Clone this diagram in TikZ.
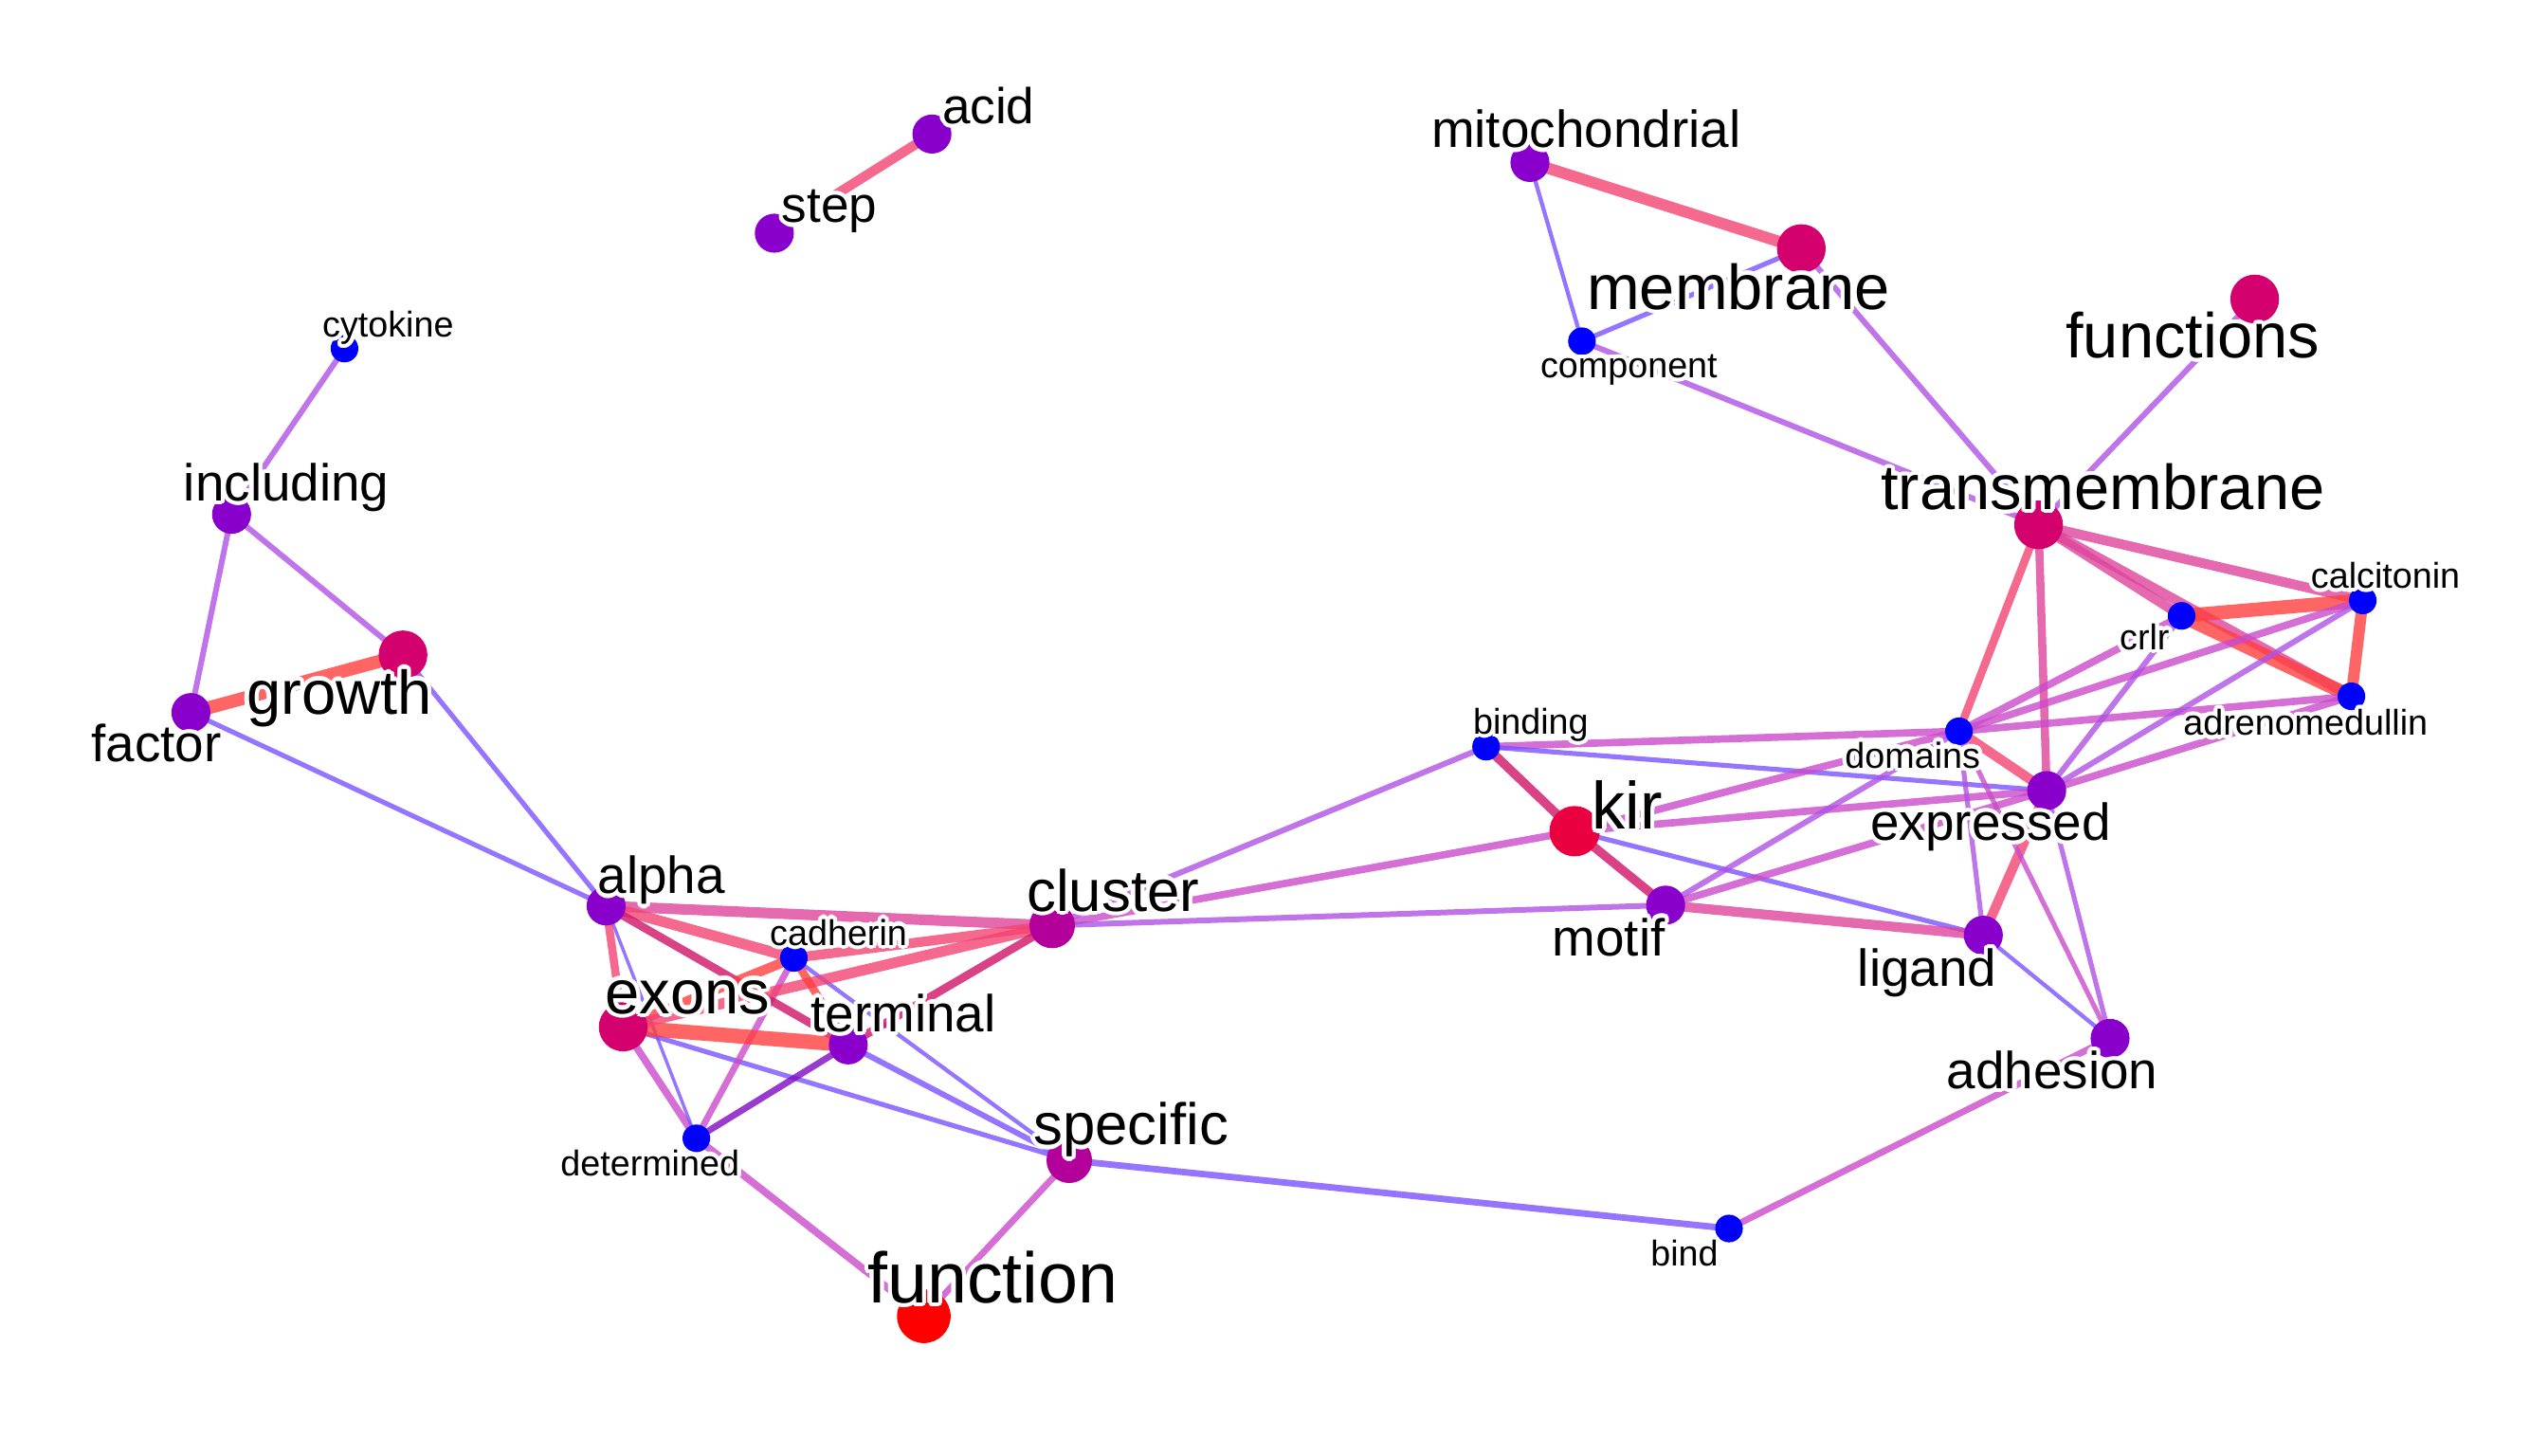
\documentclass[tikz,border=0pt]{standalone}
\usepackage{fontspec}
\setmainfont{Liberation Sans}
\usepackage[copies]{contour}
\contourlength{2.5pt}
\contournumber{16}
\usetikzlibrary{backgrounds}
\newcommand{\halotext}[1]{\contour{white}{#1}}

\definecolor{nodeblue}{RGB}{0,0,255}
\definecolor{nodepurple}{RGB}{137,0,204}
\definecolor{nodemagenta}{RGB}{180,0,155}
\definecolor{nodecrimson}{RGB}{212,0,110}
\definecolor{nodekir}{RGB}{235,0,63}
\definecolor{nodered}{RGB}{255,0,0}
\definecolor{colA}{RGB}{122,82,255}
\definecolor{colB}{RGB}{175,82,228}
\definecolor{colC}{RGB}{202,75,202}
\definecolor{colD}{RGB}{222,68,155}
\definecolor{colE}{RGB}{242,68,115}
\definecolor{colF}{RGB}{255,62,62}
\definecolor{colG}{RGB}{208,20,102}
\definecolor{colH}{RGB}{128,10,195}

\tikzset{
	vtx/.style={circle, inner sep=0pt, fill=#1},
	vblue/.style={vtx=nodeblue, minimum size=17pt},
	vpurple/.style={vtx=nodepurple, minimum size=24pt},
	vmagenta/.style={vtx=nodemagenta, minimum size=28pt},
	vcrimson/.style={vtx=nodecrimson, minimum size=30pt},
	vkir/.style={vtx=nodekir, minimum size=31pt},
	vred/.style={vtx=nodered, minimum size=33pt},
	word/.style={anchor=base, inner sep=0pt, font=\fontsize{#1}{#1}\selectfont},
	edgeA/.style={draw=colA, line width=3pt, draw opacity=0.8},
	edgeB/.style={draw=colB, line width=3.5pt, draw opacity=0.8},
	edgeC/.style={draw=colC, line width=4.5pt, draw opacity=0.8},
	edgeD/.style={draw=colD, line width=6pt, draw opacity=0.8},
	edgeE/.style={draw=colE, line width=6.5pt, draw opacity=0.8},
	edgeF/.style={draw=colF, line width=8.5pt, draw opacity=0.8},
	edgeG/.style={draw=colG, line width=5.5pt, draw opacity=0.8},
	edgeH/.style={draw=colH, line width=4pt, draw opacity=0.8}
}

\begin{document}
\begin{tikzpicture}[x=1pt, y=-1pt]
		\useasboundingbox (0,0) rectangle (1568,896);
		
		\node[vpurple] (acid) at (573.5,82.5) {};
		\node[vpurple] (step) at (476.5,143.5) {};
		\node[vblue] (cytokine) at (212,214.5) {};
		\node[vpurple] (including) at (142.5,316.5) {};
		\node[vcrimson] (growth) at (248,403) {};
		\node[vpurple] (factor) at (117.5,438.5) {};
		\node[vpurple] (mitochondrial) at (941.5,100) {};
		\node[vcrimson] (membrane) at (1108.5,153) {};
		\node[vblue] (component) at (973.5,210) {};
		\node[vcrimson] (functions) at (1387.5,184) {};
		\node[vcrimson] (transmembrane) at (1254.5,323) {};
		\node[vblue] (calcitonin) at (1454,369.5) {};
		\node[vblue] (crlr) at (1342.5,379) {};
		\node[vblue] (adrenomedullin) at (1447,428.5) {};
		\node[vblue] (domains) at (1205.5,450) {};
		\node[vblue] (binding) at (914.5,459.5) {};
		\node[vpurple] (expressed) at (1259.5,486.5) {};
		\node[vkir] (kir) at (969,511.5) {};
		\node[vpurple] (motif) at (1025,557) {};
		\node[vpurple] (ligand) at (1220.5,575.5) {};
		\node[vpurple] (adhesion) at (1298.5,639) {};
		\node[vmagenta] (cluster) at (647.5,569.5) {};
		\node[vpurple] (alpha) at (373,557.5) {};
		\node[vblue] (cadherin) at (488.5,589.5) {};
		\node[vcrimson] (exons) at (383.5,632) {};
		\node[vpurple] (terminal) at (522,643) {};
		\node[vblue] (determined) at (428.5,700.5) {};
		\node[vmagenta] (specific) at (658,714) {};
		\node[vred] (function) at (568.5,810) {};
		\node[vblue] (bind) at (1064,756) {};
		
		\begin{pgfonlayer}{background}
		\draw[edgeE, line width=6pt] (step.center) -- (acid.center);
		\draw[edgeB] (cytokine.center) -- (including.center);
		\draw[edgeB] (including.center) -- (factor.center);
		\draw[edgeB] (including.center) -- (growth.center);
		\draw[edgeF, line width=8pt] (factor.center) -- (growth.center);
		\draw[edgeA] (factor.center) -- (alpha.center);
		\draw[edgeA] (growth.center) -- (alpha.center);
		
		\draw[edgeE, line width=7pt] (mitochondrial.center) -- (membrane.center);
		\draw[edgeA, line width=2.5pt] (mitochondrial.center) -- (component.center);
		\draw[edgeA] (component.center) -- (membrane.center);
		\draw[edgeB] (component.center) -- (transmembrane.center);
		\draw[edgeB] (membrane.center) -- (transmembrane.center);
		\draw[edgeB] (functions.center) -- (transmembrane.center);
		
		\draw[edgeD] (transmembrane.center) -- (calcitonin.center);
		\draw[edgeD] (transmembrane.center) -- (crlr.center);
		\draw[edgeD] (transmembrane.center) -- (adrenomedullin.center);
		\draw[edgeF] (crlr.center) -- (calcitonin.center);
		\draw[edgeF] (crlr.center) -- (adrenomedullin.center);
		\draw[edgeF, line width=7pt] (calcitonin.center) -- (adrenomedullin.center);
		\draw[edgeE, line width=5pt] (transmembrane.center) -- (domains.center);
		\draw[edgeD, line width=5pt] (transmembrane.center) -- (expressed.center);
		\draw[edgeC] (domains.center) -- (calcitonin.center);
		\draw[edgeC] (domains.center) -- (crlr.center);
		\draw[edgeC] (domains.center) -- (adrenomedullin.center);
		\draw[edgeE, line width=6pt] (domains.center) -- (expressed.center);
		\draw[edgeB] (expressed.center) -- (crlr.center);
		\draw[edgeB] (expressed.center) -- (calcitonin.center);
		\draw[edgeC] (expressed.center) -- (adrenomedullin.center);
		
		\draw[edgeC] (binding.center) -- (domains.center);
		\draw[edgeA] (binding.center) -- (expressed.center);
		\draw[edgeG] (binding.center) -- (kir.center);
		\draw[edgeB] (binding.center) -- (cluster.center);
		\draw[edgeC] (kir.center) -- (domains.center);
		\draw[edgeC] (kir.center) -- (expressed.center);
		\draw[edgeG] (kir.center) -- (motif.center);
		\draw[edgeC] (kir.center) -- (cluster.center);
		\draw[edgeA] (kir.center) -- (ligand.center);
		\draw[edgeB] (motif.center) -- (domains.center);
		\draw[edgeD] (motif.center) -- (ligand.center);
		\draw[edgeB] (motif.center) -- (cluster.center);
		\draw[edgeC] (motif.center) -- (expressed.center);
		\draw[edgeE, line width=6pt] (ligand.center) -- (expressed.center);
		\draw[edgeB, line width=3pt] (ligand.center) -- (domains.center);
		\draw[edgeA, line width=2.5pt] (ligand.center) -- (adhesion.center);
		\draw[edgeB, line width=3pt] (adhesion.center) -- (expressed.center);
		\draw[edgeC, line width=3pt] (adhesion.center) -- (domains.center);
		\draw[edgeC, line width=4pt] (adhesion.center) -- (bind.center);
		\draw[edgeA, line width=4pt] (bind.center) -- (specific.center);
		
		\draw[edgeC, line width=4pt] (specific.center) -- (function.center);
		\draw[edgeA, line width=3.5pt] (specific.center) -- (terminal.center);
		\draw[edgeA, line width=2.5pt] (specific.center) -- (cadherin.center);
		\draw[edgeA] (specific.center) -- (exons.center);
		\draw[edgeC] (determined.center) -- (function.center);
		\draw[edgeC] (determined.center) -- (exons.center);
		\draw[edgeA, line width=2pt] (alpha.center) -- (determined.center);
		\draw[edgeC, line width=4pt] (determined.center) -- (cadherin.center);
		\draw[edgeH] (determined.center) -- (terminal.center);
		\draw[edgeE, line width=5pt] (alpha.center) -- (exons.center);
		\draw[edgeD, line width=6.5pt] (alpha.center) -- (cluster.center);
		\draw[edgeE] (alpha.center) -- (cadherin.center);
		\draw[edgeG, line width=5pt] (alpha.center) -- (terminal.center);
		\draw[edgeF, line width=6pt] (exons.center) -- (cadherin.center);
		\draw[edgeF, line width=9pt] (exons.center) -- (terminal.center);
		\draw[edgeE] (exons.center) -- (cluster.center);
		\draw[edgeF, line width=5pt] (cadherin.center) -- (terminal.center);
		\draw[edgeE, line width=6pt] (cadherin.center) -- (cluster.center);
		\draw[edgeG, line width=5pt] (terminal.center) -- (cluster.center);
		\end{pgfonlayer}
		
		\node[word=31] (acid-t) at (608.3,76) {\halotext{acid}};
		\node[word=31] (step-t) at (510.4,137) {\halotext{step}};
		\node[word=22] (cytokine-t) at (238.8,207.5) {\halotext{cytokine}};
		\node[word=32] (including-t) at (176.3,308.3) {\halotext{including}};
		\node[word=38] (growth-t) at (208.8,439.3) {\halotext{growth}};
		\node[word=32] (factor-t) at (96.2,468.8) {\halotext{factor}};
		\node[word=32] (mitochondrial-t) at (976,91) {\halotext{mitochondrial}};
		\node[word=39] (membrane-t) at (1069.8,190.2) {\halotext{membrane}};
		\node[word=22] (component-t) at (1002.4,232.4) {\halotext{component}};
		\node[word=39] (functions-t) at (1349.3,220.3) {\halotext{functions}};
		\node[word=39] (transmembrane-t) at (1294,313.5) {\halotext{transmembrane}};
		\node[word=22] (calcitonin-t) at (1468,362) {\halotext{calcitonin}};
		\node[word=22] (crlr-t) at (1319.7,399.6) {\halotext{crlr}};
		\node[word=22] (adrenomedullin-t) at (1418.8,452.5) {\halotext{adrenomedullin}};
		\node[word=22] (binding-t) at (942,451.5) {\halotext{binding}};
		\node[word=22] (domains-t) at (1177,472.5) {\halotext{domains}};
		\node[word=41] (kir-t) at (1001.5,510.4) {\halotext{kir}};
		\node[word=32] (expressed-t) at (1225,517.2) {\halotext{expressed}};
		\node[word=32] (motif-t) at (990,588) {\halotext{motif}};
		\node[word=32] (ligand-t) at (1186,607) {\halotext{ligand}};
		\node[word=32] (adhesion-t) at (1263,670) {\halotext{adhesion}};
		\node[word=36] (cluster-t) at (685,560.6) {\halotext{cluster}};
		\node[word=32] (alpha-t) at (407,550) {\halotext{alpha}};
		\node[word=22] (cadherin-t) at (516,581.6) {\halotext{cadherin}};
		\node[word=38] (exons-t) at (423,623.6) {\halotext{exons}};
		\node[word=32] (terminal-t) at (556,634.7) {\halotext{terminal}};
		\node[word=22] (determined-t) at (400,723.4) {\halotext{determined}};
		\node[word=36] (specific-t) at (696,704.6) {\halotext{specific}};
		\node[word=22] (bind-t) at (1036.6,778.8) {\halotext{bind}};
		\node[word=44] (function-t) at (611,801.6) {\halotext{function}};
	\end{tikzpicture}
\end{document}
